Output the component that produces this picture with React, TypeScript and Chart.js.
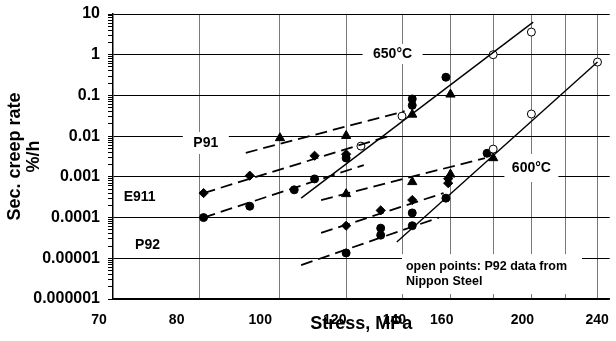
import { useEffect, useRef } from 'react';
import { Chart, registerables } from 'chart.js';

Chart.register(...registerables);

const FONT = '"Liberation Sans", Arial, Helvetica, sans-serif';

// ---- axis data ----
const xMin = 63.1;
const xMax = 248.2;
const xGridValues = [80, 100, 120, 140, 160, 180, 200, 220, 240];
const xTickLabels = ['70', '80', '100', '120', '140', '160', '200', '240'];
const xTickAt = [60.7, 75.2, 94.7, 116.3, 137.1, 156.2, 195.1, 239.7];
const yTickValues = [1e-6, 1e-5, 1e-4, 1e-3, 1e-2, 1e-1, 1, 10];
const yTickLabels = ['0.000001', '0.00001', '0.0001', '0.001', '0.01', '0.1', '1', '10'];

// ---- P92 (filled circles) ----
const p92Stress650 = [81, 92, 104, 110, 120, 144, 144, 158];
const p92Rate650 = [1.0e-4, 1.9e-4, 4.8e-4, 8.9e-4, 2.9e-3, 0.082, 0.057, 0.28];
const p92Stress600 = [120, 132, 132, 144, 144, 158, 177];
const p92Rate600 = [1.35e-5, 5.5e-5, 3.7e-5, 1.3e-4, 6.3e-5, 3.0e-4, 3.8e-3];

// ---- E911 (diamonds) ----
const e911Stress650 = [81, 92, 110, 120];
const e911Rate650 = [4.0e-4, 1.07e-3, 3.3e-3, 3.6e-3];
const e911Stress600 = [120, 132, 144, 159, 159];
const e911Rate600 = [6.3e-5, 1.5e-4, 2.7e-4, 9.0e-4, 7.0e-4];

// ---- P91 (triangles) ----
const p91Stress650 = [100, 120, 144, 160];
const p91Rate650 = [0.009, 0.0102, 0.034, 0.106];
const p91Stress600 = [120, 144, 160, 180];
const p91Rate600 = [3.8e-4, 7.5e-4, 1.15e-3, 2.9e-3];

// ---- P92 Nippon Steel (open circles) ----
const nsStress650 = [125, 140, 180, 200];
const nsRate650 = [0.0057, 0.031, 1.0, 3.6];
const nsStress600 = [180, 200, 240];
const nsRate600 = [0.0048, 0.035, 0.66];

// ---- fitted lines (solid: Nippon Steel P92) ----
const fitNs650Stress = [106, 201];
const fitNs650Rate = [3.0e-4, 6.3];
const fitNs600Stress = [138, 240];
const fitNs600Rate = [2.5e-5, 0.66];

// ---- fitted lines (dashed) ----
const fitP91650Stress = [91, 141];
const fitP91650Rate = [0.0039, 0.041];
const fitE911650Stress = [81, 135];
const fitE911650Rate = [4.0e-4, 0.0101];
const fitP92650Stress = [81, 126];
const fitP92650Rate = [1.0e-4, 0.00195];
const fitP91600Stress = [112, 176];
const fitP91600Rate = [2.7e-4, 0.0029];
const fitE911600Stress = [112, 157];
const fitE911600Rate = [4.2e-5, 4.0e-4];
const fitP92600Stress = [106, 155];
const fitP92600Rate = [6.8e-6, 1.0e-4];

// ---- annotations ----
const noteLines = [['650°C'], ['600°C'], ['P91'], ['E911'], ['P92'], ['open points: P92 data from', 'Nippon Steel']];
const noteStress = [136.4, 200, 81.5, 67.9, 69.4, 179.4];
const noteRate = [1.04, 0.00165, 0.0068, 3.2e-4, 2.12e-5, 4.1e-6];

// styling for annotations (box size, font, alignment)
const noteStyle = [
  { w: 60, h: 20, size: 14, align: 'center', lh: 16 },
  { w: 54, h: 28, size: 14, align: 'center', lh: 16 },
  { w: 46, h: 22, size: 14, align: 'center', lh: 16 },
  { w: 40, h: 14, size: 14, align: 'center', lh: 16 },
  { w: 34, h: 14, size: 14, align: 'center', lh: 16 },
  { w: 180, h: 40, size: 12.5, align: 'left', lh: 15 },
];

const pts = (xs: number[], ys: number[]) => xs.map((x, i) => ({ x, y: ys[i] }));

const isDecade = (v: number) => Math.abs(Math.log10(v) - Math.round(Math.log10(v))) < 1e-6;

const notesPlugin = {
  id: 'notes',
  beforeDatasetsDraw(chart: any) {
    const { ctx } = chart;
    const xs = chart.scales.x;
    const ys = chart.scales.y;
    ctx.save();
    noteLines.forEach((lines, i) => {
      const st = noteStyle[i];
      const cx = xs.getPixelForValue(noteStress[i]);
      const cy = ys.getPixelForValue(noteRate[i]);
      ctx.fillStyle = '#ffffff';
      ctx.fillRect(cx - st.w / 2, cy - st.h / 2, st.w, st.h);
      ctx.fillStyle = '#000000';
      ctx.font = `bold ${st.size}px ${FONT}`;
      ctx.textBaseline = 'middle';
      ctx.textAlign = st.align;
      const tx = st.align === 'left' ? cx - st.w / 2 + 4 : cx;
      lines.forEach((line, k) => {
        ctx.fillText(line, tx, cy + (k - (lines.length - 1) / 2) * st.lh);
      });
    });
    ctx.restore();
  },
};

const dashed = (xs: number[], ys: number[]) => ({
  data: pts(xs, ys),
  showLine: true,
  borderColor: '#000',
  borderWidth: 1.8,
  borderDash: [12, 6],
  pointRadius: 0,
  fill: false,
});
const solid = (xs: number[], ys: number[]) => ({
  data: pts(xs, ys),
  showLine: true,
  borderColor: '#000',
  borderWidth: 1.4,
  pointRadius: 0,
  fill: false,
});
const marks = (xs: number[], ys: number[], style: string, radius: number, fill: string) => ({
  data: pts(xs, ys),
  showLine: false,
  pointStyle: style,
  pointRadius: radius,
  pointBackgroundColor: fill,
  pointBorderColor: '#000',
  pointBorderWidth: 1,
});

export default function App() {
  const ref = useRef<HTMLCanvasElement | null>(null);
  useEffect(() => {
    if (!ref.current) return;
    const chart = new Chart(ref.current, {
      type: 'scatter',
      data: {
        datasets: [
          solid(fitNs650Stress, fitNs650Rate),
          solid(fitNs600Stress, fitNs600Rate),
          dashed(fitP91650Stress, fitP91650Rate),
          dashed(fitE911650Stress, fitE911650Rate),
          dashed(fitP92650Stress, fitP92650Rate),
          dashed(fitP91600Stress, fitP91600Rate),
          dashed(fitE911600Stress, fitE911600Rate),
          dashed(fitP92600Stress, fitP92600Rate),
          marks(nsStress650, nsRate650, 'circle', 4, '#fff'),
          marks(nsStress600, nsRate600, 'circle', 4, '#fff'),
          marks(p92Stress650, p92Rate650, 'circle', 4, '#000'),
          marks(p92Stress600, p92Rate600, 'circle', 4, '#000'),
          marks(e911Stress650, e911Rate650, 'rectRot', 4.6, '#000'),
          marks(e911Stress600, e911Rate600, 'rectRot', 4.6, '#000'),
          marks(p91Stress650, p91Rate650, 'triangle', 5.3, '#000'),
          marks(p91Stress600, p91Rate600, 'triangle', 5.3, '#000'),
        ] as any,
      },
      options: {
        animation: false,
        responsive: true,
        maintainAspectRatio: false,
        layout: { padding: { top: 14, left: 0, right: 0, bottom: 0 } },
        plugins: {
          legend: { display: false },
          tooltip: { enabled: false },
          title: { display: false },
        },
        scales: {
          x: {
            type: 'logarithmic',
            position: 'bottom',
            weight: 0,
            min: xMin,
            max: xMax,
            afterBuildTicks: (s: any) => {
              s.ticks = xGridValues.map((v) => ({ value: v }));
            },
            afterFit: (s: any) => {
              s.height = 0;
              s.paddingLeft = 0;
              s.paddingRight = 0;
            },
            ticks: { display: false },
            grid: { color: '#7a7a7a', lineWidth: 1, drawTicks: false },
            border: { display: true, color: '#000', width: 1.5 },
          },
          xl: {
            type: 'logarithmic',
            position: 'bottom',
            weight: 1,
            min: xMin,
            max: xMax,
            afterBuildTicks: (s: any) => {
              s.ticks = xTickAt.map((v) => ({ value: v }));
            },
            afterFit: (s: any) => {
              s.height = 42;
              s.paddingLeft = 0;
              s.paddingRight = 0;
            },
            ticks: {
              autoSkip: false,
              maxRotation: 0,
              minRotation: 0,
              padding: 13,
              color: '#000',
              font: { family: FONT, size: 14, weight: 'bold' },
              callback: (_v: any, i: number) => xTickLabels[i],
            },
            grid: { display: false, drawTicks: false },
            border: { display: false },
            title: {
              display: true,
              text: 'Stress, MPa',
              color: '#000',
              font: { family: FONT, size: 18, weight: 'bold', lineHeight: 1 },
              padding: { top: 0, bottom: 8 },
            },
          },
          y: {
            type: 'logarithmic',
            min: 1e-6,
            max: 10,
            afterBuildTicks: (s: any) => {
              const t: any[] = [];
              for (let d = 0; d < yTickValues.length - 1; d++) {
                for (let m = 1; m <= 9; m++) {
                  t.push({ value: Number((m * yTickValues[d]).toPrecision(6)) });
                }
              }
              t.push({ value: yTickValues[yTickValues.length - 1] });
              s.ticks = t;
            },
            afterFit: (s: any) => {
              s.width = 113;
              s.paddingTop = 0;
              s.paddingBottom = 0;
            },
            ticks: {
              autoSkip: false,
              padding: 8,
              color: '#000',
              font: { family: FONT, size: 16, weight: 'bold' },
              callback: (v: any) => {
                const n = Number(v);
                const k = yTickValues.findIndex((t) => Math.abs(Math.log10(t) - Math.log10(n)) < 1e-6);
                return k >= 0 ? yTickLabels[k] : '';
              },
            },
            grid: {
              color: (c: any) => (c.tick && isDecade(c.tick.value) ? '#000' : 'rgba(0,0,0,0)'),
              lineWidth: 1,
              drawTicks: true,
              tickLength: 5,
              tickColor: '#000',
              tickWidth: 1,
            },
            border: { display: true, color: '#000', width: 1.5 },
            title: {
              display: true,
              text: ['Sec. creep rate', '%/h'],
              color: '#000',
              font: { family: FONT, size: 18, weight: 'bold', lineHeight: 1.05 },
              padding: { top: 5.5, bottom: 0 },
            },
          },
        } as any,
      },
      plugins: [notesPlugin as any],
    });
    return () => chart.destroy();
  }, []);

  return (
    <div style={{ position: 'fixed', left: 0, top: 0, width: 616, height: 341, background: '#fff' }}>
      <canvas ref={ref} />
    </div>
  );
}
